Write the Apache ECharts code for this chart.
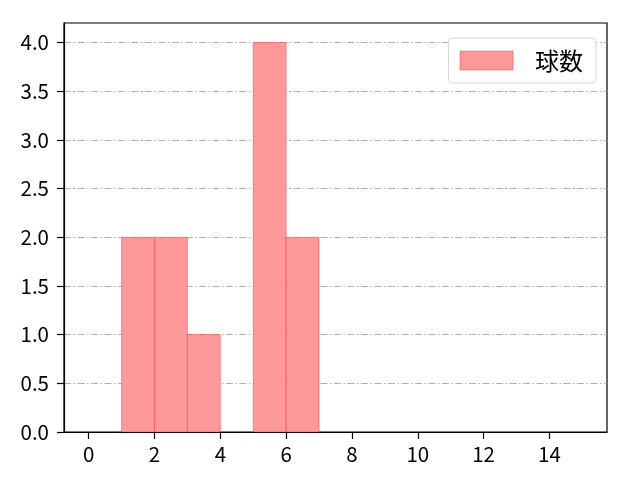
<!DOCTYPE html>
<html><head><meta charset="utf-8">
<script src="https://cdn.jsdelivr.net/npm/echarts@6/dist/echarts.min.js"></script>
<style>html,body{margin:0;padding:0;background:#fff}#c{width:640px;height:480px}</style>
</head><body><div id="c"></div>
<script>
var binStarts = [1, 2, 3, 5, 6];
var binWidth = 1;
var counts = [2, 2, 1, 4, 2];
var xTicks = [0, 2, 4, 6, 8, 10, 12, 14];
var yTicks = [0, 0.5, 1, 1.5, 2, 2.5, 3, 3.5, 4];
var seriesName = '球数';

var FONT = '"Noto Sans CJK JP", "DejaVu Sans", sans-serif';
var data = binStarts.map(function (s, i) { return [s, s + binWidth, counts[i]]; });

var chart = echarts.init(document.getElementById('c'), null, {renderer: 'canvas'});
chart.setOption({
  animation: false,
  backgroundColor: '#fff',
  textStyle: {fontFamily: FONT},
  grid: {left: 64, right: 33, top: 23, bottom: 48, show: true, borderColor: '#000', borderWidth: 1.2, backgroundColor: 'transparent'},
  legend: {
    right: 44, top: 38,
    itemWidth: 53, itemHeight: 19,
    padding: [10, 13, 10, 11],
    borderColor: '#d6d6d6', borderWidth: 1, borderRadius: 4,
    backgroundColor: '#fff',
    textStyle: {fontFamily: FONT, fontSize: 24, lineHeight: 25, color: '#000', padding: [0, 0, 0, 17]},
    data: [{name: seriesName, icon: 'rect', itemStyle: {color: '#ff9999', borderColor: 'rgba(255,0,0,0.35)', borderWidth: 1}}]
  },
  xAxis: {
    type: 'value', min: -0.75, max: 15.75,
    axisLine: {show: true, onZero: false, lineStyle: {color: '#000', width: 1.2}},
    axisTick: {show: true, length: 7, customValues: xTicks, lineStyle: {color: '#000', width: 1.2}},
    axisLabel: {customValues: xTicks, fontSize: 20.5, color: '#000', margin: 12, fontFamily: FONT},
    splitLine: {show: false}
  },
  yAxis: {
    type: 'value', min: 0, max: 4.2, interval: 0.5,
    axisLine: {show: true, onZero: false, lineStyle: {color: '#000', width: 1.2}},
    axisTick: {show: true, length: 7, customValues: yTicks, lineStyle: {color: '#000', width: 1.2}},
    axisLabel: {customValues: yTicks, fontSize: 20.5, color: '#000', margin: 15, fontFamily: FONT,
      formatter: function (v) { return v.toFixed(1); }},
    splitLine: {show: true, lineStyle: {color: '#b0b0b0', width: 1, type: [7, 2.5, 1.5, 2.5]}}
  },
  series: [{
    name: seriesName,
    type: 'custom',
    z: 5,
    itemStyle: {color: '#ff9999'},
    renderItem: function (params, api) {
      var p0 = api.coord([api.value(0), 0]);
      var p1 = api.coord([api.value(1), api.value(2)]);
      return {
        type: 'rect',
        shape: {x: p0[0], y: p1[1], width: p1[0] - p0[0], height: p0[1] - p1[1]},
        style: {fill: '#ff9999', stroke: 'rgba(255,0,0,0.35)', lineWidth: 1}
      };
    },
    encode: {x: [0, 1], y: 2},
    data: data
  }]
});
</script></body></html>
